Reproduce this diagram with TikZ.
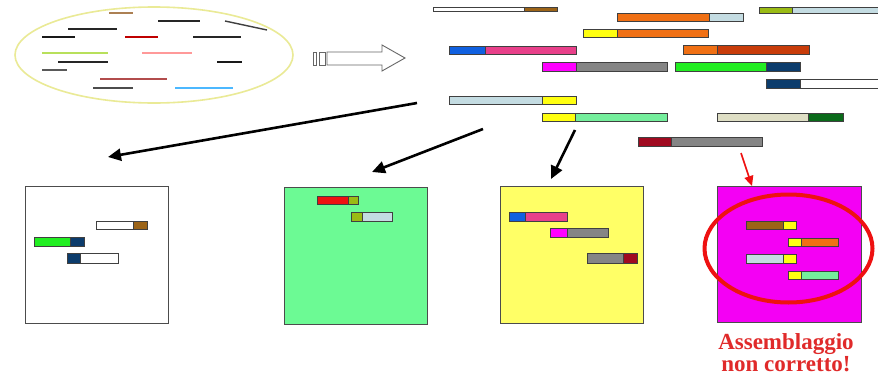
\documentclass[tikz,border=0pt]{standalone}
\usepackage{fontspec}
\setmainfont{Liberation Serif}
\usetikzlibrary{arrows.meta}
\definecolor{cbrown}{HTML}{9C6418}
\definecolor{cblue}{HTML}{1060E0}
\definecolor{cpink}{HTML}{E8408A}
\definecolor{cmag}{HTML}{FF00FF}
\definecolor{cgray}{HTML}{858585}
\definecolor{clblue}{HTML}{C4DCE2}
\definecolor{cyel}{HTML}{FFFF10}
\definecolor{corange}{HTML}{F07014}
\definecolor{colive}{HTML}{9ABB14}
\definecolor{crust}{HTML}{C83C0A}
\definecolor{cgreen}{HTML}{22EE22}
\definecolor{cnavy}{HTML}{0C3C6C}
\definecolor{cmint}{HTML}{74EE9C}
\definecolor{cbeige}{HTML}{DEDEC4}
\definecolor{cdgreen}{HTML}{0A6A1A}
\definecolor{cdred}{HTML}{A00A20}
\definecolor{cred}{HTML}{EE1111}
\definecolor{boxgreen}{HTML}{6CFA94}
\definecolor{boxyel}{HTML}{FFFF66}
\definecolor{boxmag}{HTML}{F400F4}
\definecolor{ellcol}{HTML}{EAEA96}
\definecolor{txtred}{HTML}{E02A2A}
\newcommand{\fragbar}[7]{%
  \fill[#6] (#1,#4) rectangle (#2,#5);
  \fill[#7] (#2,#4) rectangle (#3,#5);
  \draw[barline] (#1,#4) rectangle (#3,#5);
  \draw[barline] (#2,#4) -- (#2,#5);}
\begin{document}
\begin{tikzpicture}[x=1pt,y=-1pt,
  barline/.style={draw=black!75,line width=0.9},
  readline/.style={line width=1.4},
  bigarrow/.style={line width=2.6,-{Triangle[length=13,width=12]}},
  redarrow/.style={draw=cred,line width=1.6,-{Triangle[length=10,width=9]}},
  framebox/.style={draw=black!70,line width=1,minimum width=143,minimum height=137,inner sep=0,anchor=north west},
  warn/.style={text=txtred,font=\bfseries\fontsize{23}{23}\selectfont,inner sep=0}]
\useasboundingbox (0,0) rectangle (878,380);
\clip (0,0) rectangle (878,380);
\fill[white] (0,0) rectangle (878,380);
% ellipse of reads
\draw[ellcol,line width=1.6] (154,55) ellipse [x radius=139, y radius=48];
\draw[readline,draw=brown!70!gray] (109,13) -- (133,13);
\draw[readline,black!85] (158,21) -- (200,21);
\draw[readline,black!75] (225,21) -- (267,30);
\draw[readline,black!85] (68,29) -- (117,29);
\draw[readline,black!90] (42,37) -- (75,37);
\draw[readline,draw=red!75!black] (125,37) -- (158,37);
\draw[readline,black!85] (193,37) -- (241,37);
\draw[readline,draw=yellow!60!green!70] (42,53) -- (108,53);
\draw[readline,draw=pink!80!red] (142,53) -- (192,53);
\draw[readline,black!85] (58,62) -- (108,62);
\draw[readline,black!90] (217,62) -- (242,62);
\draw[readline,black!65] (42,70) -- (67,70);
\draw[readline,draw=red!40!gray] (100,79) -- (167,79);
\draw[readline,black!70] (93,88) -- (133,88);
\draw[readline,draw=blue!40!cyan!70] (175,88) -- (233,88);
% hollow arrow
\draw[black!60,line width=0.9,fill=white] (327,52) -- (382,52) -- (382,45) -- (405,58) -- (382,71) -- (382,65) -- (327,65) -- cycle;
\draw[black!60,line width=0.9] (313,52) rectangle (316,65);
\draw[black!60,line width=0.9] (319,52) rectangle (325,65);
% fragments
\fragbar{433}{524}{557}{7.5}{11.5}{white}{cbrown}
\fragbar{617}{709}{743}{13}{21}{corange}{clblue}
\fragbar{759}{792}{900}{7.5}{13}{colive}{clblue}
\fragbar{583}{617}{708}{29}{37}{cyel}{corange}
\fragbar{449}{485}{576}{46}{54}{cblue}{cpink}
\fragbar{683}{717}{809}{45}{54}{corange}{crust}
\fragbar{542}{576}{667}{62}{71}{cmag}{cgray}
\fragbar{675}{766}{800}{62}{71}{cgreen}{cnavy}
\fragbar{766}{800}{900}{79}{88}{cnavy}{white}
\fragbar{449}{542}{576}{96}{104}{clblue}{cyel}
\fragbar{542}{575}{667}{113}{121}{cyel}{cmint}
\fragbar{717}{808}{843}{113}{121}{cbeige}{cdgreen}
\fragbar{638}{671}{762}{137}{146}{cdred}{cgray}
% boxes
\node[framebox,fill=white] (b1) at (25,186) {};
\node[framebox,fill=boxgreen] (b2) at (284,187) {};
\node[framebox,fill=boxyel] (b3) at (500,186) {};
\node[framebox,fill=boxmag,minimum width=144,minimum height=136] (b4) at (717,186) {};
% box 1
\fragbar{96}{133}{147}{221}{229}{white}{cbrown}
\fragbar{34}{70}{84}{237}{246}{cgreen}{cnavy}
\fragbar{67}{80}{118}{253}{263}{cnavy}{white}
% box 2
\fragbar{317}{348}{358}{196}{204}{cred}{colive}
\fragbar{351}{362}{392}{212}{221}{colive}{clblue}
% box 3
\fragbar{509}{525}{567}{212}{221}{cblue}{cpink}
\fragbar{550}{567}{608}{228}{237}{cmag}{cgray}
\fragbar{587}{623}{637}{253}{263}{cgray}{cdred}
% box 4
\fragbar{746}{783}{796}{221}{229}{cbrown}{cyel}
\fragbar{788}{801}{838}{238}{246}{cyel}{corange}
\fragbar{746}{783}{796}{254}{263}{clblue}{cyel}
\fragbar{788}{801}{838}{271}{279}{cyel}{cmint}
\draw[cred,line width=4] (788.5,248.5) ellipse [x radius=84, y radius=54];
% arrows
\coordinate (a1s) at (417,103); \coordinate (a1e) at (108,157);
\coordinate (a2s) at (483,129); \coordinate (a2e) at (372,172);
\coordinate (a3s) at (575,130); \coordinate (a3e) at (551,179);
\coordinate (a4s) at (741,153); \coordinate (a4e) at (752,186);
\draw[bigarrow] (a1s) -- (a1e);
\draw[bigarrow] (a2s) -- (a2e);
\draw[bigarrow] (a3s) -- (a3e);
\draw[redarrow] (a4s) -- (a4e);
% text
\node[warn,anchor=base] (t1) at (786,349) {Assemblaggio};
\node[warn,anchor=base] (t2) at (786,371) {non corretto!};
\end{tikzpicture}
\end{document}
